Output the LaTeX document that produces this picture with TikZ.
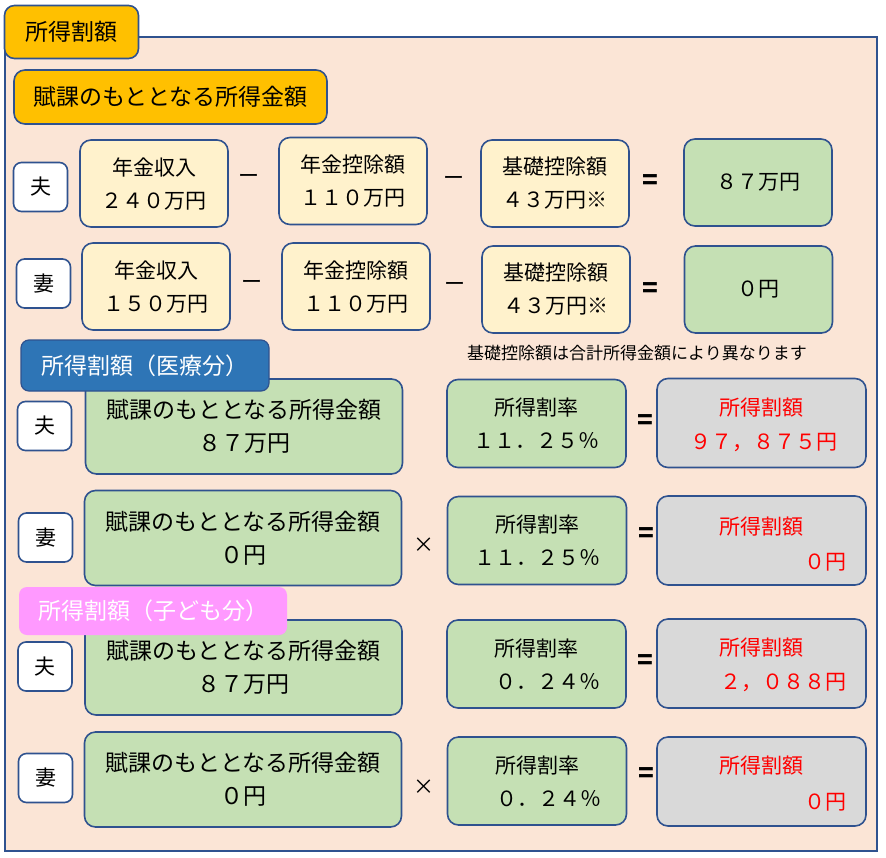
\documentclass[tikz,border=0pt]{standalone}
\usepackage{fontspec}
\setmainfont{Noto Sans CJK JP}
\definecolor{bordc}{RGB}{47,82,143}
\definecolor{peach}{RGB}{251,229,214}
\definecolor{gold}{RGB}{255,192,0}
\definecolor{cream}{RGB}{255,242,204}
\definecolor{lgreen}{RGB}{197,224,180}
\definecolor{lgray}{RGB}{217,217,217}
\definecolor{tabblue}{RGB}{46,117,182}
\definecolor{tabpink}{RGB}{255,153,255}
\newcommand\myfa{\fontsize{21}{33}\selectfont}
\newcommand\myfb{\fontsize{23}{33}\selectfont}
\newcommand\myfc{\fontsize{17}{20}\selectfont}
\newcommand\myfd{\fontsize{26}{30}\selectfont\bfseries}
\begin{document}
\begin{tikzpicture}[x=1pt,y=-1pt,
  bx/.style={draw=bordc, line width=1.6pt, rounded corners=11pt, align=center, inner sep=0pt, font=\myfa},
  creambox/.style={bx, fill=cream, minimum width=148pt, minimum height=87pt},
  greenbox/.style={bx, fill=lgreen},
  bigbox/.style={bx, fill=lgreen, font=\myfb, minimum width=317pt, minimum height=95pt},
  ratebox/.style={bx, fill=lgreen, minimum width=179pt, minimum height=88pt},
  graybox/.style={bx, fill=lgray, minimum width=209pt, minimum height=89pt},
  goldbox/.style={bx, fill=gold, font=\myfb},
  whobox/.style={bx, fill=white, rounded corners=8pt, minimum width=54pt, minimum height=49pt},
  op/.style={inner sep=0pt, font=\myfa},
  eqop/.style={inner sep=0pt, font=\myfd},
  xop/.style={inner sep=0pt, font=\myfa},
  redtxt/.style={inner sep=0pt, font=\myfa, text=red},
  tabbox/.style={rounded corners=8pt, inner sep=0pt, text=white, font=\myfb},
]
\useasboundingbox (0,0) rectangle (886,857);
% frame
\node[draw=bordc, line width=1.6pt, fill=peach, minimum width=872pt, minimum height=814pt, inner sep=0pt] (F) at (441,444) {};
\node[goldbox, minimum width=134pt, minimum height=53pt, rounded corners=10pt] (T) at (71.5,32) {所得割額};
\node[goldbox, minimum width=313pt, minimum height=54pt] (K) at (170.5,97) {賦課のもととなる所得金額};
% row 1
\node[whobox] (H1) at (40.5,187) {夫};
\node[creambox] (A1) at (154,183.5) {年金収入\\２４０万円};
\node[op] (m1a) at (249,179) {ー};
\node[creambox] (B1) at (353,181) {年金控除額\\１１０万円};
\node[op] (m1b) at (454,181) {ー};
\node[creambox] (C1) at (555,183.5) {基礎控除額\\４３万円※};
\node[eqop] (e1) at (650,182) {=};
\node[greenbox, minimum width=148pt, minimum height=87pt] (D1) at (758,182.5) {８７万円};
% row 2
\node[whobox] (H2) at (43.5,283.5) {妻};
\node[creambox] (A2) at (156,286.5) {年金収入\\１５０万円};
\node[op] (m2a) at (252,285) {ー};
\node[creambox] (B2) at (356,286.5) {年金控除額\\１１０万円};
\node[op] (m2b) at (455,287) {ー};
\node[creambox] (C2) at (556,289.5) {基礎控除額\\４３万円※};
\node[eqop] (e2) at (650,290) {=};
\node[greenbox, minimum width=148pt, minimum height=87pt] (D2) at (758.5,289.5) {０円};
\node[inner sep=0pt, font=\myfc] (N) at (637,353) {基礎控除額は合計所得金額により異なります};
% section medical
\node[whobox] (H3) at (44.5,426) {夫};
\node[bigbox] (G3) at (244,426.5) {賦課のもととなる所得金額\\８７万円};
\node[ratebox] (R3) at (536.5,423.5) {所得割率\\１１．２５％};
\node[eqop] (e3) at (645,422) {=};
\node[graybox] (S3) at (761.5,423) {};
\node[redtxt] (S3a) at (761,408) {所得割額};
\node[redtxt] (S3b) at (763.5,443) {９７，８７５円};
\node[whobox] (H4) at (45.5,537.5) {妻};
\node[bigbox] (G4) at (243,538) {賦課のもととなる所得金額\\０円};
\node[xop] (x4) at (424,545) {×};
\node[ratebox] (R4) at (537,540.5) {所得割率\\１１．２５％};
\node[eqop] (e4) at (646,535) {=};
\node[graybox] (S4) at (761.5,540.5) {};
\node[redtxt] (S4a) at (761,527) {所得割額};
\node[redtxt, anchor=east] (S4b) at (847,562) {０円};
\node[tabbox, fill=tabblue, draw=bordc, line width=1.2pt, minimum width=248pt, minimum height=51pt] (M) at (145,365.5) {所得割額（医療分）};
% section kids
\node[whobox] (H5) at (45,666.5) {夫};
\node[bigbox] (G5) at (243.5,667.5) {賦課のもととなる所得金額\\８７万円};
\node[ratebox] (R5) at (536.5,664) {所得割率\\\hspace*{1.1em}０．２４％};
\node[eqop] (e5) at (645,662) {=};
\node[graybox] (S5) at (761.5,663.5) {};
\node[redtxt] (S5a) at (761,648) {所得割額};
\node[redtxt, anchor=east] (S5b) at (847,683) {２，０８８円};
\node[whobox] (H6) at (45.5,778) {妻};
\node[bigbox] (G6) at (243,779.5) {賦課のもととなる所得金額\\０円};
\node[xop] (x6) at (424,787) {×};
\node[ratebox] (R6) at (537,781) {所得割率\\\hspace*{1.1em}０．２４％};
\node[eqop] (e6) at (646,775) {=};
\node[graybox] (S6) at (761.5,781.5) {};
\node[redtxt] (S6a) at (761,766) {所得割額};
\node[redtxt, anchor=east] (S6b) at (847,802) {０円};
\node[tabbox, fill=tabpink, minimum width=268pt, minimum height=48pt] (P) at (153,611) {所得割額（子ども分）};
\end{tikzpicture}
\end{document}
